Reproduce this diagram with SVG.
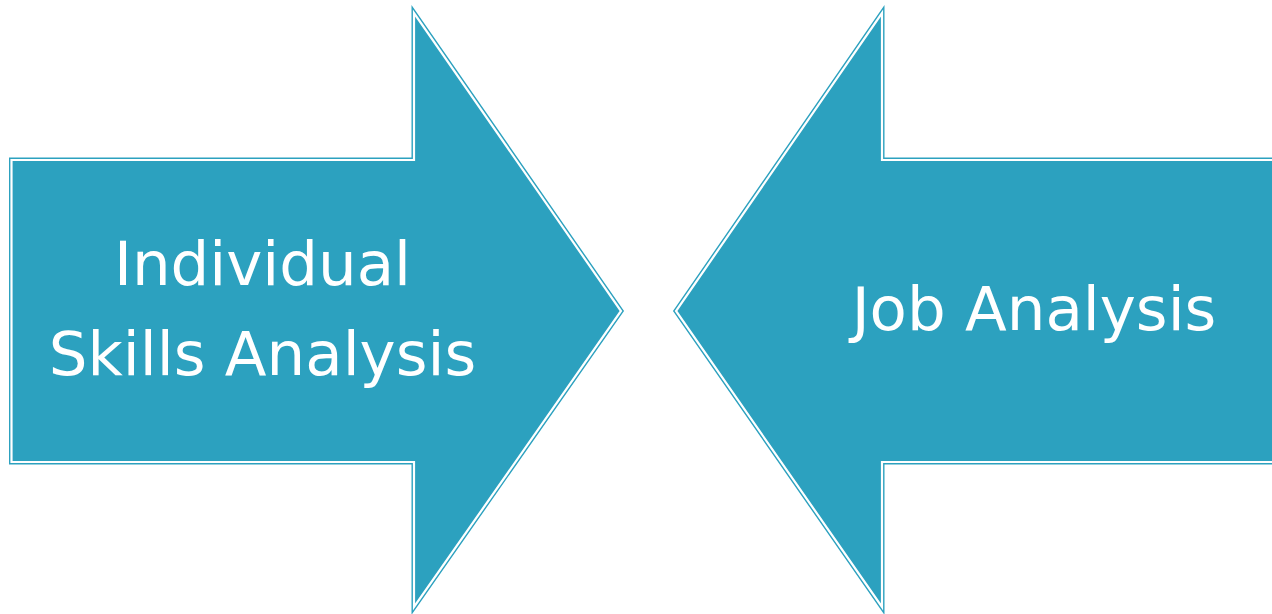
<svg xmlns="http://www.w3.org/2000/svg" width="1272" height="614" viewBox="0 0 1272 614">
<style>
.outer{fill:none;stroke:#2ca1bf;stroke-width:5;stroke-linejoin:miter;stroke-miterlimit:10}
.inner{fill:#2ca1bf;stroke:#ffffff;stroke-width:2.2;stroke-linejoin:miter;stroke-miterlimit:10}
.lbl{font-family:"DejaVu Sans",sans-serif;font-size:61px;fill:#ffffff;text-anchor:middle}
</style>
<rect width="1272" height="614" fill="#ffffff"/>
<g id="node-individual">
<path class="outer" d="M11.5,160 L414,160 L414,13 L621,311 L414,607 L414,462 L11.5,462 Z"/>
<path class="inner" d="M11.5,160 L414,160 L414,13 L621,311 L414,607 L414,462 L11.5,462 Z"/>
<text class="lbl" x="262.5" y="285">Individual</text>
<text class="lbl" x="262.5" y="375">Skills Analysis</text>
</g>
<g id="node-job">
<path class="outer" d="M1280,160 L882,160 L882,13 L676,311 L882,607 L882,462 L1280,462 Z"/>
<path class="inner" d="M1280,160 L882,160 L882,13 L676,311 L882,607 L882,462 L1280,462 Z"/>
<text class="lbl" x="1034" y="330">Job Analysis</text>
</g>
<g id="connectors"></g>
</svg>
